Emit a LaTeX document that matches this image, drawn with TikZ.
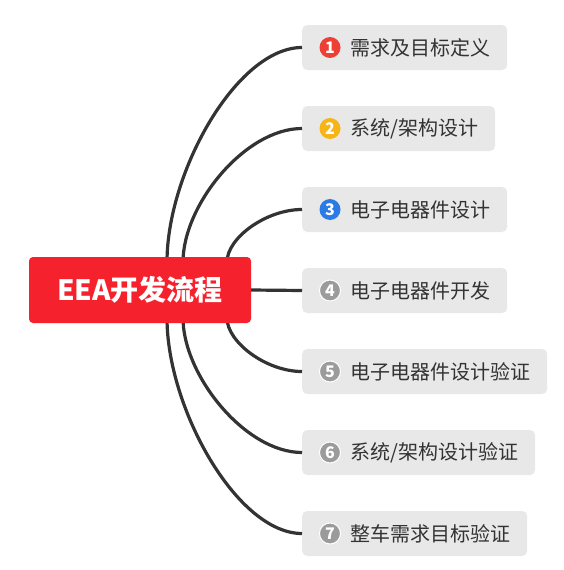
\documentclass[tikz,border=0pt]{standalone}
\usepackage{fontspec}
\newfontfamily\cjk{Noto Sans CJK SC}
\definecolor{rootred}{HTML}{F5222D}
\definecolor{boxgray}{HTML}{E8E8E8}
\definecolor{linegray}{HTML}{333333}
\definecolor{txtgray}{HTML}{333333}
\definecolor{numred}{HTML}{EC4035}
\definecolor{numyellow}{HTML}{F6B416}
\definecolor{numblue}{HTML}{2B7BE6}
\definecolor{numgray}{HTML}{9B9B9B}
\begin{document}
\begin{tikzpicture}[x=1pt,y=-1pt,
  rootbox/.style={fill=rootred,rounded corners=4pt,minimum width=222pt,minimum height=66pt,inner sep=0pt,
    text=white,font=\cjk\bfseries\fontsize{28}{30}\selectfont},
  childbox/.style={fill=boxgray,rounded corners=5pt,minimum height=45pt,inner xsep=17pt,inner ysep=0pt,
    anchor=west,text=txtgray,font=\cjk\fontsize{20}{24}\selectfont},
  numdot/.style={circle,inner sep=0pt,minimum size=21pt,text=white,font=\cjk\bfseries\fontsize{16}{16}\selectfont},
  branch/.style={draw=linegray,line width=3.2pt}]
\useasboundingbox (0,0) rectangle (563,570);
% coordinates for branch starts
\coordinate (s1) at (167,262);
\coordinate (s2) at (183,262);
\coordinate (s3) at (227,262);
\coordinate (s5) at (227,318);
\coordinate (s6) at (183,318);
\coordinate (s7) at (167,318);
% children
\node[childbox] (n1) at (302,47.5) {\hspace*{31pt}需求及目标定义};
\node[childbox] (n2) at (302,128.5) {\hspace*{31pt}系统/架构设计};
\node[childbox] (n3) at (302,209.5) {\hspace*{31pt}电子电器件设计};
\node[childbox] (n4) at (302,290.5) {\hspace*{31pt}电子电器件开发};
\node[childbox] (n5) at (302,371.5) {\hspace*{31pt}电子电器件设计验证};
\node[childbox] (n6) at (302,452.5) {\hspace*{31pt}系统/架构设计验证};
\node[childbox] (n7) at (302,533.5) {\hspace*{31pt}整车需求目标验证};
% number dots
\node[numdot,fill=numred] (d1) at ([xshift=28pt]n1.west) {1};
\node[numdot,fill=numyellow] (d2) at ([xshift=28pt]n2.west) {2};
\node[numdot,fill=numblue] (d3) at ([xshift=28pt]n3.west) {3};
\node[numdot,fill=numgray,draw=white,line width=1pt] (d4) at ([xshift=28pt]n4.west) {4};
\node[numdot,fill=numgray,draw=white,line width=1pt] (d5) at ([xshift=28pt]n5.west) {5};
\node[numdot,fill=numgray,draw=white,line width=1pt] (d6) at ([xshift=28pt]n6.west) {6};
\node[numdot,fill=numgray,draw=white,line width=1pt] (d7) at ([xshift=28pt]n7.west) {7};
% branches
\draw[branch] (s1) .. controls (167,172) and (237,47.5) .. (n1.west);
\draw[branch] (s2) .. controls (183,205) and (245,128.5) .. (n2.west);
\draw[branch] (s3) .. controls (227,238) and (266,209.5) .. (n3.west);
\draw[branch] (s5) .. controls (227,342) and (266,371.5) .. (n5.west);
\draw[branch] (s6) .. controls (183,375) and (245,452.5) .. (n6.west);
\draw[branch] (s7) .. controls (167,408) and (237,533.5) .. (n7.west);
% root
\node[rootbox] (root) at (140,290) {EEA开发流程};
\draw[branch] (root.east) -- (n4.west);
\end{tikzpicture}
\end{document}
